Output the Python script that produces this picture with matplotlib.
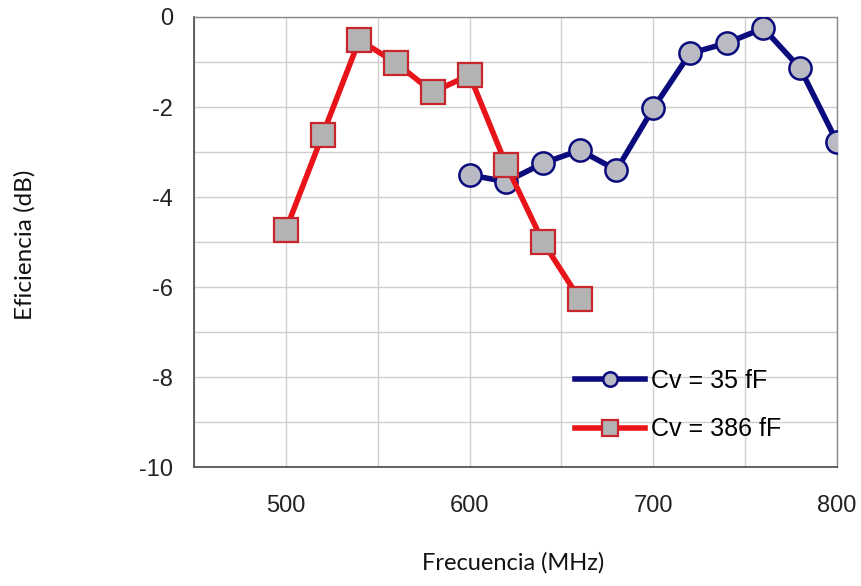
import matplotlib.pyplot as plt
import numpy as np

plt.rcParams['axes.unicode_minus'] = False

# data
freq_386 = [500, 520, 540, 560, 580, 600, 620, 640, 660]
ef_386 = [-4.73, -2.62, -0.51, -1.02, -1.67, -1.29, -3.29, -5.0, -6.27]

freq_35 = [600, 620, 640, 660, 680, 700, 720, 740, 760, 780, 800]
ef_35 = [-3.51, -3.66, -3.25, -2.96, -3.4, -2.03, -0.81, -0.58, -0.25, -1.14, -2.77]

x_ticks = [500, 600, 700, 800]
y_ticks = [0, -2, -4, -6, -8, -10]

fig = plt.figure(figsize=(8.61, 5.86), dpi=100)
ax = fig.add_axes([0.2253, 0.203, 0.7467, 0.768])

ax.plot(freq_35, ef_35, color='#0b0b7d', lw=4, marker='o', ms=16,
        mfc='#b9bac4', mec='#0b0b7d', mew=1.8, label='Cv = 35 fF', zorder=3)
ax.plot(freq_386, ef_386, color='#e8141a', lw=4, marker='s', ms=17,
        mfc='#b3b3b3', mec='#c8262c', mew=1.6, label='Cv = 386 fF', zorder=4)

ax.set_xlim(450, 800)
ax.set_ylim(-10, 0)
ax.set_xticks(x_ticks)
ax.set_xticks(np.arange(450, 801, 50), minor=True)
ax.set_yticks(y_ticks)
ax.set_yticks(np.arange(-10, 1, 1), minor=True)
ax.grid(True, which='both', color='#cfcfcf', lw=1)
ax.set_axisbelow(True)
ax.tick_params(which='both', length=0)
ax.tick_params(axis='x', pad=20)
ax.tick_params(axis='y', pad=15)
for lab in ax.get_xticklabels() + ax.get_yticklabels():
    lab.set_fontfamily('Liberation Sans')
    lab.set_fontsize(17)
    lab.set_color('#222222')

for s in ['left', 'bottom']:
    ax.spines[s].set_color('#555555')
    ax.spines[s].set_linewidth(1.3)
for s in ['top', 'right']:
    ax.spines[s].set_color('#888888')
    ax.spines[s].set_linewidth(1.0)

fig.text(0.029, 0.582, 'Eficiencia (dB)', rotation=90, ha='center', va='center',
         fontsize=17.5, family='Lato', color='#111111')
fig.text(0.596, 0.04, 'Frecuencia (MHz)', ha='center', va='center',
         fontsize=17, family='Lato', color='#111111')

leg = ax.legend(loc='upper left', bbox_to_anchor=(0.5925, 0.218), frameon=False,
                borderpad=0, borderaxespad=0,
                handlelength=2.8, handletextpad=0.25, labelspacing=0.98,
                prop={'family': 'Liberation Sans', 'size': 18}, markerscale=0.65)

fig.savefig('out.png', dpi=100)
